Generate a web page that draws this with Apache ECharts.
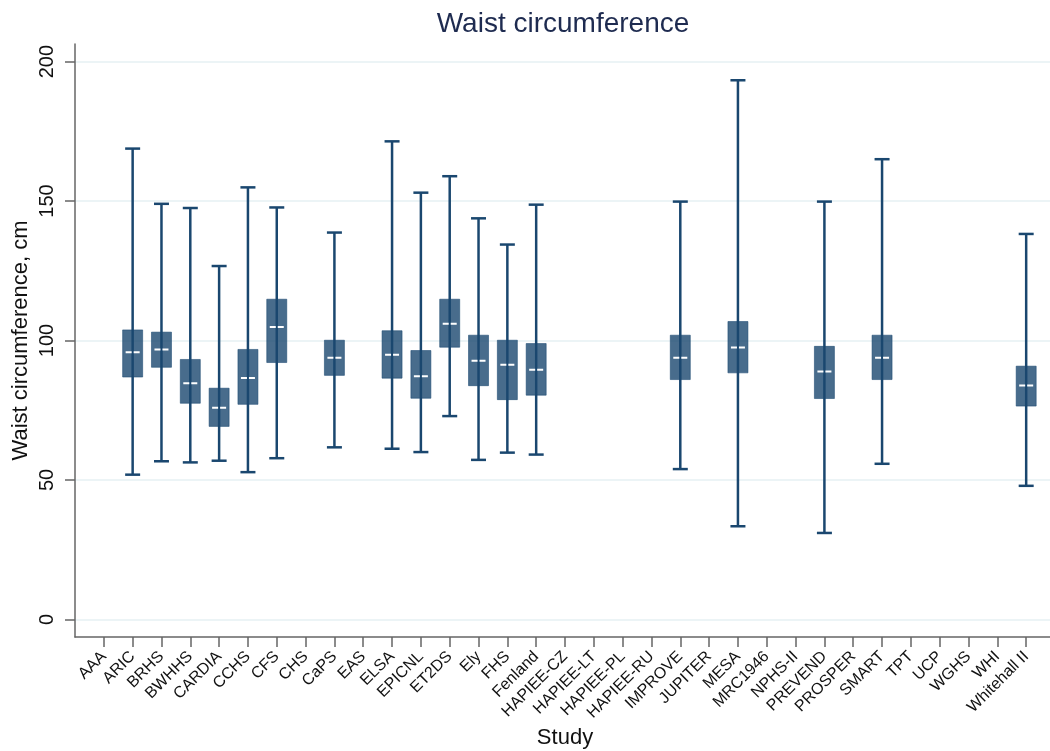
<!DOCTYPE html>
<html>
<head>
<meta charset="utf-8">
<script src="https://cdn.jsdelivr.net/npm/echarts@6/dist/echarts.min.js"></script>
<style>
html,body{margin:0;padding:0;background:#fff;}
#chart{width:1050px;height:751px;}
</style>
</head>
<body>
<div id="chart"></div>
<script>
const studies = ['AAA','ARIC','BRHS','BWHHS','CARDIA','CCHS','CFS','CHS','CaPS','EAS','ELSA','EPICNL','ET2DS','Ely','FHS','Fenland','HAPIEE-CZ','HAPIEE-LT','HAPIEE-PL','HAPIEE-RU','IMPROVE','JUPITER','MESA','MRC1946','NPHS-II','PREVEND','PROSPER','SMART','TPT','UCP','WGHS','WHI','Whitehall II'];
const whiskerLow  = [null,51.9,56.7,56.3,56.9,52.8,57.8,null,61.7,null,61.2,60.0,72.9,57.2,59.8,59.1,null,null,null,null,53.9,null,33.4,null,null,31.0,null,55.8,null,null,null,null,47.9];
const q1          = [null,86.9,90.4,77.5,69.2,77.1,92.1,null,87.5,null,86.5,79.3,97.6,83.8,78.8,80.4,null,null,null,null,86.0,null,88.4,null,null,79.2,null,86.0,null,null,null,null,76.5];
const median      = [null,95.8,96.8,84.7,75.9,86.6,104.8,null,93.8,null,94.9,87.2,106.0,92.7,91.3,89.5,null,null,null,null,93.8,null,97.5,null,null,88.9,null,93.8,null,null,null,null,83.9];
const q3          = [null,103.8,103.0,93.2,82.9,96.8,114.8,null,100.1,null,103.5,96.4,114.8,101.9,100.1,98.9,null,null,null,null,101.9,null,106.8,null,null,97.9,null,101.9,null,null,null,null,90.8];
const whiskerHigh = [null,168.8,149.0,147.5,126.7,154.9,147.7,null,138.7,null,171.4,153.0,158.9,143.8,134.4,148.7,null,null,null,null,149.8,null,193.3,null,null,149.8,null,165.0,null,null,null,null,138.2];
const yTicks = [0,50,100,150,200];

const NAVY = '#1a476f';
const FONT = '"Liberation Sans", Arial, sans-serif';

const boxData = [];
studies.forEach((s, i) => {
  if (median[i] != null) boxData.push([i, whiskerLow[i], q1[i], median[i], q3[i], whiskerHigh[i]]);
});
const xIdx = studies.map((s, i) => i);

function renderBox(params, api) {
  const x = api.value(0);
  const lo = api.coord([x, api.value(1)]);
  const b1 = api.coord([x, api.value(2)]);
  const md = api.coord([x, api.value(3)]);
  const b3 = api.coord([x, api.value(4)]);
  const hi = api.coord([x, api.value(5)]);
  const cx = lo[0];
  return {
    type: 'group',
    children: [
      {type:'line', shape:{x1:cx, y1:hi[1], x2:cx, y2:lo[1]}, style:{stroke:NAVY, lineWidth:2.5}},
      {type:'line', shape:{x1:cx-7.5, y1:hi[1], x2:cx+7.5, y2:hi[1]}, style:{stroke:NAVY, lineWidth:2.5}},
      {type:'line', shape:{x1:cx-7.5, y1:lo[1], x2:cx+7.5, y2:lo[1]}, style:{stroke:NAVY, lineWidth:2.5}},
      {type:'rect', shape:{x:cx-10, y:b3[1], width:20, height:b1[1]-b3[1]}, style:{fill:'rgba(26,71,111,0.8)', stroke:'rgba(26,71,111,0.55)', lineWidth:1}},
      {type:'line', shape:{x1:cx-7, y1:md[1], x2:cx+7, y2:md[1]}, style:{stroke:'#ffffff', lineWidth:2, lineDash:[6,2]}}
    ]
  };
}

const chart = echarts.init(document.getElementById('chart'), null, {renderer:'canvas'});
chart.setOption({
  animation: false,
  backgroundColor: '#ffffff',
  title: {
    text: 'Waist circumference',
    left: 558, top: 5, textAlign: 'center',
    textStyle: {fontFamily: FONT, fontSize: 28, fontWeight: 'normal', color: '#1e2b50'}
  },
  grid: {left: 75, right: -5, top: 44, bottom: 114, containLabel: false, outerBoundsMode: 'none'},
  xAxis: {
    type: 'value', min: -1, max: 33,
    name: 'Study', nameLocation: 'middle', nameGap: 90, nameMoveOverlap: false,
    nameTextStyle: {fontFamily: FONT, fontSize: 22, color: '#111'},
    axisLine: {show: true, onZero: false, lineStyle: {color: '#666', width: 1.5}},
    axisTick: {show: true, length: 10, customValues: xIdx, lineStyle: {color: '#666', width: 1.5}},
    axisLabel: {customValues: xIdx, formatter: v => studies[v] || '', rotate: 45, margin: 17,
      fontFamily: FONT, fontSize: 16, color: '#111'},
    splitLine: {show: false}
  },
  yAxis: {
    type: 'value', min: -6.3, max: 206.3,
    name: 'Waist circumference, cm', nameLocation: 'middle', nameGap: 43, nameRotate: 90, nameMoveOverlap: false,
    nameTextStyle: {fontFamily: FONT, fontSize: 22, color: '#111'},
    axisLine: {show: true, onZero: false, lineStyle: {color: '#666', width: 1.5}},
    axisTick: {show: true, length: 10, customValues: yTicks, lineStyle: {color: '#666', width: 1.5}},
    axisLabel: {customValues: yTicks, rotate: 90, margin: 18, fontFamily: FONT, fontSize: 20, color: '#111'},
    splitLine: {show: true, lineStyle: {color: '#e6f0f3', width: 1.5}}
  },
  series: [{
    type: 'custom',
    renderItem: renderBox,
    encode: {x: 0, y: [1,2,3,4,5]},
    data: boxData
  }]
});
</script>
</body>
</html>
